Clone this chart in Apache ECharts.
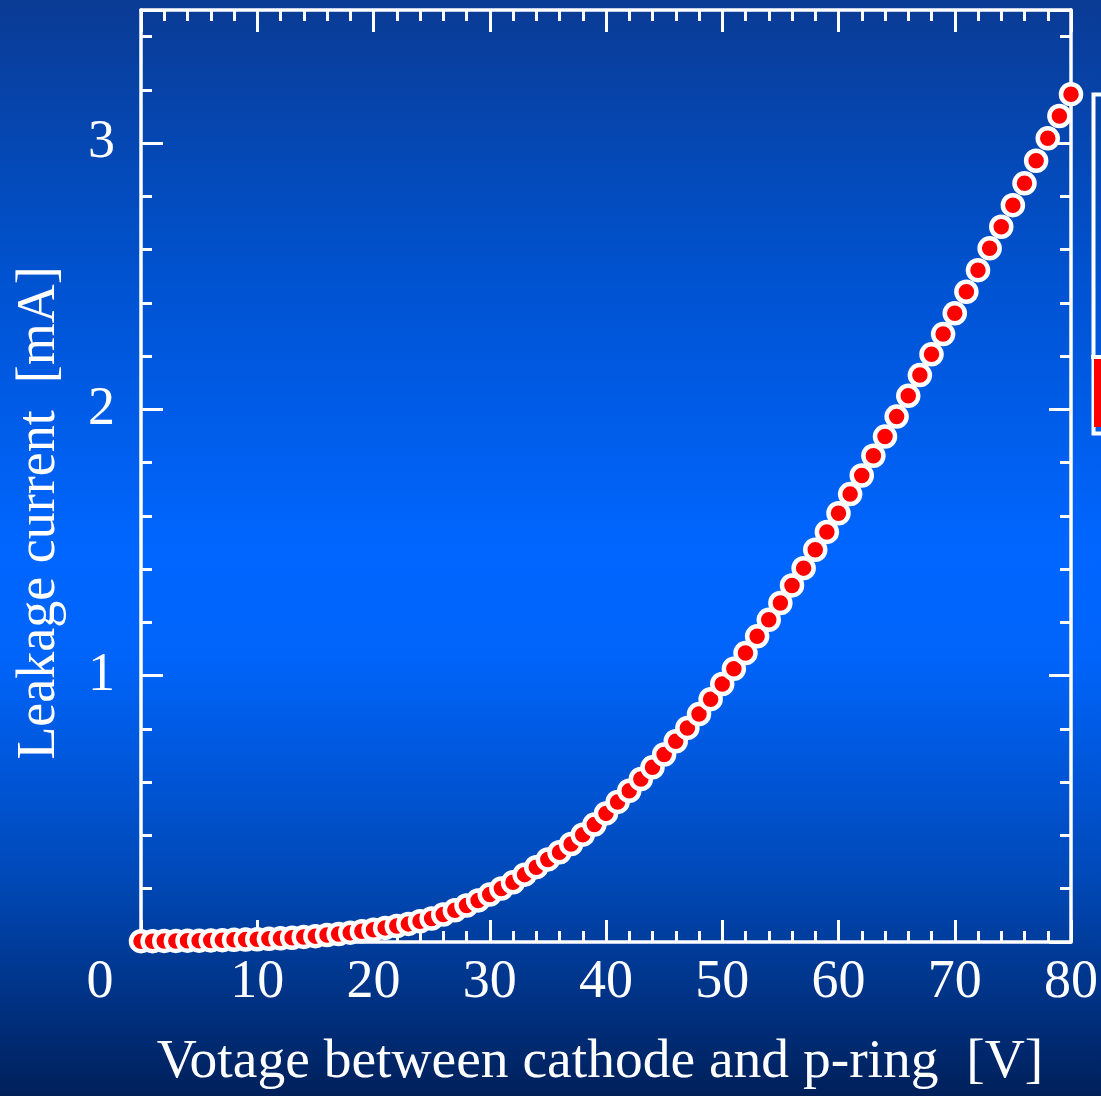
<!DOCTYPE html>
<html>
<head>
<meta charset="utf-8">
<title>Leakage current vs voltage</title>
<script src="https://cdn.jsdelivr.net/npm/echarts@6/dist/echarts.min.js"></script>
<style>
  html, body { margin: 0; padding: 0; }
  #chart { width: 1101px; height: 1096px; }
</style>
</head>
<body>
<div id="chart"></div>
<script>
// Applied voltage between cathode and p-ring [V]
const voltages = [
  0, 1, 2, 3, 4, 5, 6, 7, 8, 9,
  10, 11, 12, 13, 14, 15, 16, 17, 18, 19,
  20, 21, 22, 23, 24, 25, 26, 27, 28, 29,
  30, 31, 32, 33, 34, 35, 36, 37, 38, 39,
  40, 41, 42, 43, 44, 45, 46, 47, 48, 49,
  50, 51, 52, 53, 54, 55, 56, 57, 58, 59,
  60, 61, 62, 63, 64, 65, 66, 67, 68, 69,
  70, 71, 72, 73, 74, 75, 76, 77, 78, 79,
  80
];

// Measured leakage current [mA]
const leakageCurrent = [
  0.003, 0.003, 0.004, 0.004, 0.005, 0.005, 0.006, 0.007, 0.008, 0.009,
  0.010, 0.012, 0.014, 0.016, 0.019, 0.022, 0.026, 0.030, 0.035, 0.040,
  0.046, 0.053, 0.060, 0.068, 0.078, 0.088, 0.103, 0.119, 0.137, 0.156,
  0.178, 0.201, 0.224, 0.253, 0.281, 0.310, 0.337, 0.368, 0.403, 0.441,
  0.483, 0.526, 0.568, 0.612, 0.656, 0.704, 0.754, 0.804, 0.856, 0.912,
  0.969, 1.026, 1.085, 1.148, 1.210, 1.273, 1.339, 1.404, 1.473, 1.540,
  1.610, 1.682, 1.752, 1.826, 1.898, 1.973, 2.051, 2.129, 2.207, 2.283,
  2.361, 2.442, 2.523, 2.605, 2.686, 2.767, 2.849, 2.934, 3.018, 3.102,
  3.184
];

const xTitle = 'Votage between cathode and p-ring  [V]';
const yTitle = 'Leakage current  [mA]';

const FONT = '"Liberation Serif", "DejaVu Serif", serif';
const WHITE = '#ffffff';

const points = voltages.map((v, i) => [v, leakageCurrent[i]]);

const chart = echarts.init(document.getElementById('chart'), null, { renderer: 'canvas' });

function frameX(position, withLabels) {
  return {
    type: 'value',
    position: position,
    min: 0, max: 80, interval: 10,
    axisLine: { show: true, onZero: false, lineStyle: { color: WHITE, width: 3.5 } },
    axisTick: { show: true, inside: true, length: 22, lineStyle: { color: WHITE, width: 3 } },
    minorTick: { show: true, splitNumber: 5, length: 11, lineStyle: { color: WHITE, width: 3 } },
    splitLine: { show: false },
    axisLabel: withLabels ? {
      show: true, color: WHITE, fontFamily: FONT, fontSize: 54, margin: 14,
      formatter: v => v === 0 ? '{o|0}' : String(v),
      rich: { o: { color: WHITE, fontFamily: FONT, fontSize: 54, padding: [0, 82, 0, 0] } }
    } : { show: false },
    name: withLabels ? xTitle : '',
    nameLocation: 'middle',
    nameGap: 92,
    nameTextStyle: { color: WHITE, fontFamily: FONT, fontSize: 55.5, padding: [0, 12, 0, 0] }
  };
}

function frameY(position, major, withLabels) {
  return {
    type: 'value',
    position: position,
    min: 0, max: 3.5, interval: major ? 1 : 0.2,
    axisLine: { show: major, onZero: false, lineStyle: { color: WHITE, width: 3.5 } },
    axisTick: { show: true, inside: true, length: major ? 22 : 11, lineStyle: { color: WHITE, width: 3 } },
    splitLine: { show: false },
    axisLabel: withLabels ? {
      show: true, color: WHITE, fontFamily: FONT, fontSize: 54, margin: 26,
      formatter: v => (v > 0 && Number.isInteger(v)) ? String(v) : ''
    } : { show: false },
    name: withLabels ? yTitle : '',
    nameLocation: 'middle',
    nameRotate: 90,
    nameGap: 74,
    nameTextStyle: { color: WHITE, fontFamily: FONT, fontSize: 54, padding: [0, 74, 0, 0] }
  };
}

const option = {
  backgroundColor: {
    type: 'linear', x: 0, y: 0, x2: 0, y2: 1,
    colorStops: [
      { offset: 0, color: '#0a3b94' },
      { offset: 0.25, color: '#0052cf' },
      { offset: 0.5, color: '#0066ff' },
      { offset: 0.6, color: '#0064fa' },
      { offset: 0.8, color: '#0049b8' },
      { offset: 1, color: '#00205a' }
    ]
  },
  animation: false,
  grid: { left: 141, right: 27, top: 10, bottom: 154, containLabel: false },
  xAxis: [frameX('bottom', true), frameX('top', false)],
  yAxis: [
    frameY('left', true, true),
    frameY('left', false, false),
    frameY('right', true, false),
    frameY('right', false, false)
  ],
  series: [{
    type: 'scatter',
    xAxisIndex: 0,
    yAxisIndex: 0,
    data: points,
    symbol: 'circle',
    symbolSize: 20,
    clip: false,
    itemStyle: { color: '#ff0000', borderColor: WHITE, borderWidth: 4.5, opacity: 1 },
    z: 3
  }],
  // Legend frame at the right edge, running off the canvas
  graphic: [
    {
      type: 'rect', left: 1091, top: 92, silent: true,
      shape: { width: 200, height: 339 },
      style: { fill: 'none', stroke: WHITE, lineWidth: 4 }
    },
    {
      type: 'rect', left: 1094, top: 359, silent: true,
      shape: { width: 200, height: 68 },
      style: { fill: '#ff0000' }
    },
    {
      type: 'line', silent: true,
      shape: { x1: 1091, y1: 357, x2: 1101, y2: 357 },
      style: { stroke: WHITE, lineWidth: 4 }
    }
  ]
};

chart.setOption(option);
</script>
</body>
</html>
